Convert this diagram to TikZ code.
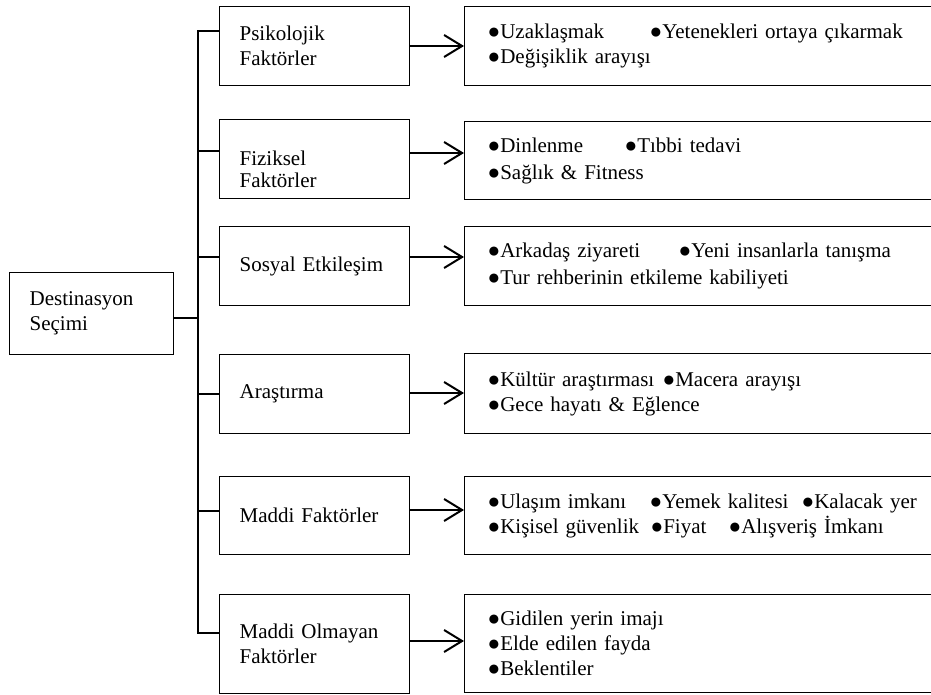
\documentclass[tikz,border=0pt]{standalone}
\usepackage{fontspec}
\setmainfont{Liberation Serif}
\usetikzlibrary{arrows.meta,positioning}
\newcommand{\itm}[2]{\makebox[#1][l]{●#2}}

\begin{document}
\begin{tikzpicture}[x=0.5pt,y=-0.5pt,font=\fontsize{10.5pt}{12.5pt}\selectfont,
  fbox/.style={draw,line width=0.6pt,anchor=north west,minimum width=95pt,minimum height=39.5pt,
    text width=75pt,inner xsep=10pt,align=left},
  ibox/.style={fbox,minimum width=243pt,text width=220pt,inner xsep=11.5pt},
  link/.style={line width=1pt},
  arr/.style={-{Straight Barb[length=9pt,width=11pt]},line width=1pt}]
\useasboundingbox (0,0) rectangle (931,695);
% main node and factors
\node[fbox,minimum width=82pt,text width=62pt,minimum height=41pt] (dest) at (9,272) {Destinasyon\\Seçimi};
\node[fbox] (psi) at (219,6) {Psikolojik\\Faktörler};
\node[fbox,text height=17.5pt,text depth=11pt] (fiz) at (219,119) {Fiziksel\\[-1.5pt]Faktörler};
\node[fbox] (sos) at (219,226) {Sosyal Etkileşim};
\node[fbox] (ara) at (219,354) {Araştırma};
\node[fbox,minimum height=39pt] (mad) at (219,476) {Maddi Faktörler};
\node[fbox,minimum height=49.5pt] (mol) at (219,594) {Maddi Olmayan\\Faktörler};
% items
\node[ibox] (psiR) at (464,6) {\itm{81pt}{Uzaklaşmak}●Yetenekleri ortaya çıkarmak\\●Değişiklik arayışı};
\node[ibox,minimum height=39pt] (fizR) at (464,121) {\itm{68.5pt}{Dinlenme}●Tıbbi tedavi\\[1pt]●Sağlık \& Fitness};
\node[ibox] (sosR) at (464,226) {\itm{95.5pt}{Arkadaş ziyareti}●Yeni insanlarla tanışma\\[1pt]●Tur rehberinin etkileme kabiliyeti};
\node[ibox,minimum height=40pt] (araR) at (464,353) {\itm{87.5pt}{Kültür araştırması}●Macera arayışı\\●Gece hayatı \& Eğlence};
\node[ibox,minimum height=39pt] (madR) at (464,476) {\itm{81pt}{Ulaşım imkanı}\itm{76pt}{Yemek kalitesi}●Kalacak yer\\
  \itm{81.5pt}{Kişisel güvenlik}\itm{39pt}{Fiyat}●Alışveriş İmkanı};
\node[ibox,minimum height=49pt] (molR) at (464,594) {●Gidilen yerin imajı\\●Elde edilen fayda\\●Beklentiler};
% trunk
\coordinate (ttop) at (198,31);
\coordinate (tbot) at (198,633);
\draw[link] (psi.west |- ttop) -- (ttop) -- (tbot) -- (mol.west |- tbot);
\foreach \n/\y in {fiz/151,sos/257,ara/394,mad/511}
  \draw[link] (ttop |- 0,\y) -- (\n.west |- 0,\y);
\draw[link] (dest.east |- 0,318) -- (ttop |- 0,318);
\foreach \n/\y in {psi/46,fiz/153,sos/257,ara/393,mad/510,mol/641}
  \draw[arr] (\n.east |- 0,\y) -- (\n R.west |- 0,\y);
\end{tikzpicture}
\end{document}
